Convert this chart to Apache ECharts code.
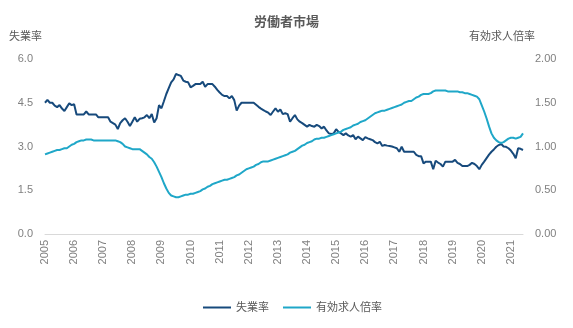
<!DOCTYPE html>
<html>
<head>
<meta charset="utf-8">
<script src="https://cdn.jsdelivr.net/npm/echarts@6/dist/echarts.min.js"></script>
<style>html,body{margin:0;padding:0;background:#fff;}#c{width:573px;height:328px;}</style>
</head>
<body>
<div id="c"></div>
<script>
var startYear = 2005;
var monthCount = 198;
var seriesNames = ['失業率', '有効求人倍率'];
var unemployment = [
  4.5,4.6,4.5,4.5,4.4,4.35,4.42,4.3,4.22,4.35,4.48,4.42,
  4.45,4.1,4.1,4.1,4.1,4.2,4.1,4.1,4.1,4.1,4.0,4.0,
  4.0,4.0,4.0,3.85,3.8,3.75,3.6,3.8,3.9,3.97,3.85,3.7,
  3.85,4.0,3.85,3.95,3.97,4.0,4.08,3.97,4.11,3.82,3.97,4.42,
  4.31,4.55,4.8,5.0,5.2,5.3,5.49,5.45,5.42,5.26,5.22,5.2,
  5.03,5.08,5.14,5.14,5.14,5.22,5.05,5.14,5.14,5.14,5.05,4.94,
  4.85,4.77,4.73,4.73,4.65,4.73,4.59,4.23,4.4,4.5,4.5,4.5,
  4.5,4.5,4.5,4.43,4.36,4.3,4.25,4.2,4.16,4.08,4.2,4.31,
  4.19,4.27,4.11,4.14,4.11,3.85,3.97,4.08,3.93,3.85,3.8,3.74,
  3.68,3.74,3.7,3.68,3.74,3.7,3.62,3.68,3.55,3.45,3.43,3.45,
  3.59,3.5,3.45,3.39,3.45,3.38,3.34,3.39,3.25,3.34,3.28,3.22,
  3.32,3.28,3.25,3.22,3.15,3.11,3.16,3.02,3.05,3.03,3.02,3.0,
  2.97,2.94,2.82,2.99,2.82,2.82,2.82,2.82,2.82,2.71,2.67,2.67,
  2.42,2.48,2.48,2.48,2.22,2.51,2.45,2.40,2.31,2.48,2.48,2.48,
  2.48,2.54,2.44,2.40,2.33,2.33,2.33,2.37,2.44,2.40,2.33,2.22,
  2.37,2.48,2.6,2.72,2.82,2.9,2.99,3.05,3.09,3.0,2.99,2.94,
  2.86,2.75,2.6,2.94,2.92,2.88
];
var jobRatio = [
  0.91,0.92,0.93,0.94,0.95,0.96,0.96,0.97,0.98,0.98,1.00,1.02,
  1.03,1.05,1.06,1.07,1.07,1.08,1.08,1.08,1.07,1.07,1.07,1.07,
  1.07,1.07,1.07,1.07,1.07,1.07,1.06,1.05,1.03,1.00,0.99,0.98,
  0.97,0.97,0.97,0.97,0.95,0.93,0.91,0.88,0.86,0.82,0.77,0.71,
  0.65,0.58,0.52,0.47,0.44,0.43,0.42,0.42,0.43,0.44,0.45,0.45,
  0.46,0.46,0.47,0.48,0.49,0.51,0.52,0.54,0.55,0.57,0.58,0.59,
  0.60,0.61,0.62,0.62,0.63,0.64,0.65,0.67,0.68,0.70,0.72,0.74,
  0.75,0.76,0.77,0.79,0.80,0.82,0.83,0.83,0.83,0.84,0.85,0.86,
  0.87,0.88,0.89,0.90,0.91,0.93,0.94,0.95,0.97,0.99,1.01,1.02,
  1.04,1.05,1.06,1.08,1.09,1.09,1.10,1.10,1.11,1.12,1.13,1.14,
  1.15,1.16,1.17,1.19,1.20,1.21,1.22,1.24,1.25,1.26,1.28,1.29,
  1.30,1.32,1.34,1.36,1.38,1.39,1.40,1.41,1.41,1.42,1.43,1.44,
  1.45,1.46,1.47,1.48,1.50,1.51,1.52,1.52,1.54,1.56,1.57,1.59,
  1.60,1.60,1.60,1.61,1.63,1.64,1.64,1.64,1.64,1.64,1.63,1.63,
  1.63,1.63,1.63,1.62,1.62,1.61,1.61,1.60,1.59,1.58,1.57,1.54,
  1.47,1.40,1.32,1.23,1.15,1.10,1.07,1.05,1.04,1.05,1.07,1.09,
  1.10,1.10,1.09,1.10,1.11,1.15
];

var categories = [];
for (var i = 0; i < monthCount; i++) {
  var y = startYear + Math.floor(i / 12);
  var mo = (i % 12) + 1;
  categories.push(y + '-' + (mo < 10 ? '0' + mo : mo));
}

var FONT = '"Liberation Sans", "Noto Sans CJK JP", sans-serif';
var chart = echarts.init(document.getElementById('c'), null, {renderer: 'canvas'});
chart.setOption({
  backgroundColor: '#ffffff',
  animation: false,
  textStyle: {fontFamily: FONT},
  title: [
    {text: '労働者市場', left: 'center', top: 11,
     textStyle: {fontSize: 13, fontWeight: 'bold', color: '#595959', fontFamily: FONT}},
    {text: '失業率', left: 4, top: 26,
     textStyle: {fontSize: 11, fontWeight: 'normal', color: '#595959', fontFamily: FONT}},
    {text: '有効求人倍率', right: 33, top: 26,
     textStyle: {fontSize: 11, fontWeight: 'normal', color: '#595959', fontFamily: FONT}}
  ],
  grid: {left: 45, right: 50, top: 59, bottom: 94},
  legend: {
    bottom: 10, left: 198, icon: 'rect', itemWidth: 28, itemHeight: 2, itemGap: 14,
    textStyle: {fontSize: 11, color: '#595959', fontFamily: FONT},
    data: seriesNames
  },
  xAxis: {
    type: 'category', data: categories, boundaryGap: false,
    axisLine: {show: true, lineStyle: {color: '#d9d9d9', width: 1}},
    axisTick: {show: false},
    splitLine: {show: false},
    axisLabel: {
      rotate: 90, color: '#808080', fontSize: 11, margin: 6,
      interval: function (idx) { return idx % 12 === 0; },
      formatter: function (v) { return v.slice(0, 4); }
    }
  },
  yAxis: [
    {type: 'value', min: 0, max: 6, interval: 1.5,
     axisLine: {show: false}, axisTick: {show: false}, splitLine: {show: false},
     axisLabel: {color: '#808080', fontSize: 11, margin: 12,
       formatter: function (v) { return v.toFixed(1); }}},
    {type: 'value', min: 0, max: 2, interval: 0.5, position: 'right',
     axisLine: {show: false}, axisTick: {show: false}, splitLine: {show: false},
     axisLabel: {color: '#808080', fontSize: 11, margin: 12,
       formatter: function (v) { return v.toFixed(2); }}}
  ],
  series: [
    {name: seriesNames[0], type: 'line', data: unemployment, yAxisIndex: 0,
     showSymbol: false, symbol: 'none', lineStyle: {color: '#174A7C', width: 2},
     itemStyle: {color: '#174A7C'}},
    {name: seriesNames[1], type: 'line', data: jobRatio, yAxisIndex: 1,
     showSymbol: false, symbol: 'none', lineStyle: {color: '#1FA7C8', width: 2},
     itemStyle: {color: '#1FA7C8'}}
  ]
});
</script>
</body>
</html>
